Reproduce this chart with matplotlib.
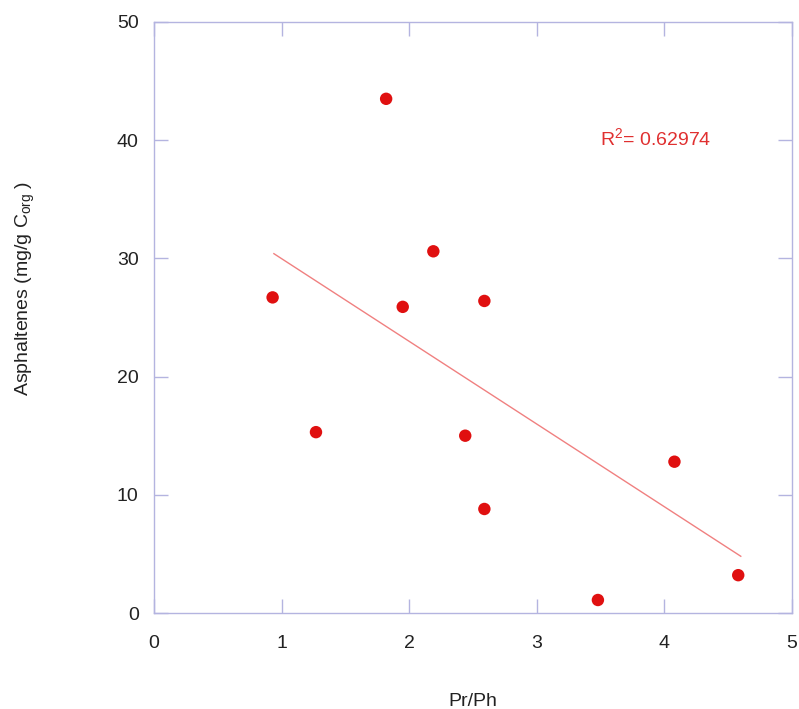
import matplotlib
matplotlib.use("Agg")
import matplotlib.pyplot as plt

plt.rcParams["font.family"] = ["Liberation Sans", "DejaVu Sans"]

# Scatter data
pr_ph = [0.93, 1.27, 1.82, 1.95, 2.19, 2.44, 2.59, 2.59, 3.48, 4.08, 4.58]
asphaltenes = [26.7, 15.3, 43.5, 25.9, 30.6, 15.0, 26.4, 8.8, 1.1, 12.8, 3.2]

# Trend line end points
fit_x = [0.94, 4.6]
fit_y = [30.4, 4.8]

frame_color = "#b4b4e0"
text_color = "#222222"

fig = plt.figure(figsize=(7.99, 7.09), dpi=100)
ax = fig.add_axes([0.1927, 0.1354, 0.7983, 0.8336])

ax.plot(fit_x, fit_y, color="#f08080", linewidth=1.0, zorder=2)
ax.scatter(pr_ph, asphaltenes, s=80, color="#e01010", edgecolors="none", zorder=3)

ax.set_xlim(0, 5)
ax.set_ylim(0, 50)
ax.set_xticks(range(0, 6))
ax.set_yticks(range(0, 51, 10))

for spine in ax.spines.values():
    spine.set_color(frame_color)
    spine.set_linewidth(1.0)

ax.tick_params(direction="in", length=10, width=1.0, color=frame_color,
               labelcolor=text_color, labelsize=14, top=True, right=True)
ax.tick_params(axis="x", pad=16)
ax.tick_params(axis="y", pad=11)

ax.set_xlabel("Pr/Ph", fontsize=14, color=text_color, labelpad=29)
ax.set_ylabel("Asphaltenes (mg/g C$_{\\mathregular{org}}$ )", fontsize=14,
              color=text_color)
ax.yaxis.set_label_coords(-0.183, 0.55)

ax.text(3.5, 39.5, "R$^{\\mathregular{2}}$= 0.62974", color="#e03030",
        fontsize=14)

fig.savefig("out.png", dpi=100)
